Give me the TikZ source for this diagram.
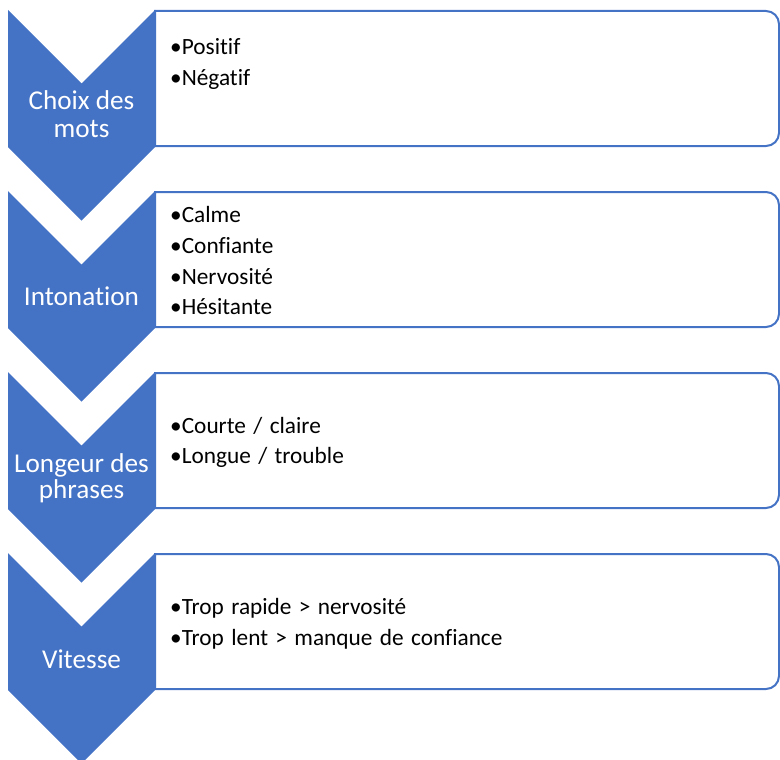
\documentclass[tikz,border=0pt]{standalone}
\usepackage{fontspec}
\setmainfont{Carlito}[Ligatures=NoCommon]
\newfontfamily\itemfont{Carlito}[Ligatures=NoCommon,WordSpace=1.4]
\definecolor{obl}{HTML}{4472C4}
\begin{document}
\begin{tikzpicture}[x=1pt,y=-1pt,
  chev/.style={fill=obl,draw=none},
  itembox/.style={draw=obl,line width=2pt,fill=white},
  lab/.style={text=white,font=\fontsize{27.2}{31}\selectfont,anchor=base,inner sep=0pt},
  item/.style={text=black,font=\itemfont\fontsize{23.3}{27}\selectfont,anchor=base west,inner sep=0pt}]
\useasboundingbox (0,0) rectangle (780,760);
\foreach \t/\n in {10/1,191/2,372/3,553/4}{
  \draw[itembox] (155,\t+1) -- (766,\t+1) .. controls (773.2,\t+1) and (779,\t+6.8) .. (779,\t+14)
     -- (779,\t+123) .. controls (779,\t+130.2) and (773.2,\t+136) .. (766,\t+136) -- (155,\t+136) -- cycle;
  \fill[chev] (8,\t) -- (81.5,\t+73.5) -- (155,\t) -- (155,\t+137) -- (81.5,\t+210.5) -- (8,\t+137) -- cycle;
}
\node[lab] (l1a) at (81.5,110) {Choix des};
\node[lab] (l1b) at (81.5,137) {mots};
\node[lab] (l2) at (81.5,305) {Intonation};
\node[lab] (l3a) at (81.5,472) {Longeur des};
\node[lab] (l3b) at (81.5,498) {phrases};
\node[lab] (l4) at (81.5,668) {Vitesse};
\node[item] (i1a) at (170,55) {•Positif};
\node[item] (i1b) at (170,86) {•Négatif};
\node[item] (i2a) at (170,222) {•Calme};
\node[item] (i2b) at (170,253) {•Confiante};
\node[item] (i2c) at (170,284) {•Nervosité};
\node[item] (i2d) at (170,314) {•Hésitante};
\node[item] (i3a) at (170,433) {•Courte / claire};
\node[item] (i3b) at (170,463) {•Longue / trouble};
\node[item] (i4a) at (170,614) {•Trop rapide > nervosité};
\node[item] (i4b) at (170,645) {•Trop lent > manque de confiance};
\end{tikzpicture}
\end{document}
